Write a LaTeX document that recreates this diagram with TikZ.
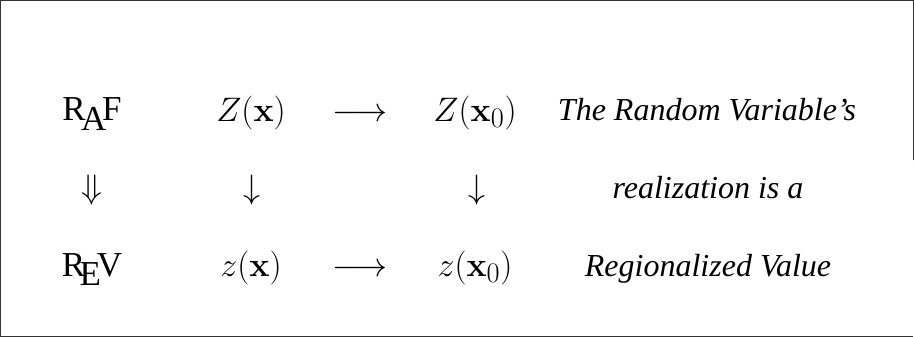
\documentclass[tikz,border=0pt]{standalone}
\usepackage[no-math]{fontspec}
\setmainfont{Liberation Serif}
\newcommand\logoRAF{R\kern-.13em\lower.28em\hbox{A}\kern-.12em F}
\newcommand\logoREV{R\kern-.16em\lower.28em\hbox{E}\kern-.12em V}
\begin{document}
\begin{tikzpicture}[x=1pt,y=-1pt,
  mathlbl/.style={anchor=base,inner sep=0pt,font=\fontsize{24.88}{30}\selectfont,scale=1.3666},
  logolbl/.style={anchor=base,inner sep=0pt,font=\fontsize{35}{40}\selectfont},
  desclbl/.style={anchor=base,inner sep=0pt,font=\fontsize{32}{36}\selectfont\itshape},
  frameline/.style={line width=1.4pt,draw=black!80}]
\useasboundingbox (0,0) rectangle (914,337);
\draw[frameline] (913.3,160) -- (913.3,0.7) -- (0.7,0.7) -- (0.7,336.3) -- (913.3,336.3);
% row 1
\node[logolbl] (raf) at (92,121) {\logoRAF};
\node[mathlbl] (Zx) at (251,121) {$Z(\mathbf{x})$};
\node[mathlbl] (arr1) at (360,121) {$\longrightarrow$};
\node[mathlbl] (Zx0) at (475,121) {$Z(\mathbf{x}_0)$};
\node[desclbl] (d1) at (707,121) {The Random Variable’s};
% row 2
\node[mathlbl] (darr) at (92,198) {$\Downarrow$};
\node[mathlbl] (da1) at (252,198) {$\downarrow$};
\node[mathlbl] (da2) at (477,198) {$\downarrow$};
\node[desclbl] (d2) at (708,198) {realization is a};
% row 3
\node[logolbl] (rev) at (92,276) {\logoREV};
\node[mathlbl] (zx) at (251,276) {$z(\mathbf{x})$};
\node[mathlbl] (arr2) at (360,276) {$\longrightarrow$};
\node[mathlbl] (zx0) at (475,276) {$z(\mathbf{x}_0)$};
\node[desclbl] (d3) at (708,276) {Regionalized Value};
\end{tikzpicture}
\end{document}
